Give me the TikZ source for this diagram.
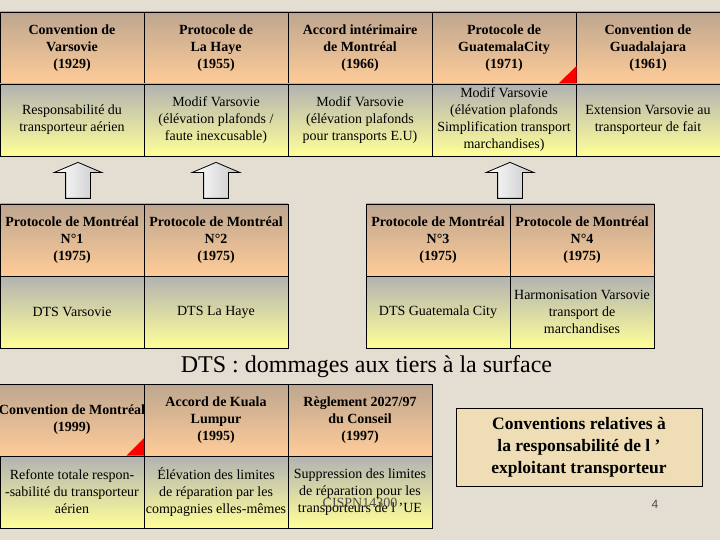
\documentclass[tikz,border=0pt]{standalone}
\usepackage{fontspec}
\setmainfont{Liberation Serif}
\setsansfont{Liberation Sans}
\usetikzlibrary{shapes.arrows}
\definecolor{pagebg}{HTML}{E4DDD1}
\definecolor{headtop}{HTML}{BDA68F}
\definecolor{headbot}{HTML}{FFCC99}
\definecolor{bodytop}{HTML}{B2B2B2}
\definecolor{bodybot}{HTML}{FFFF99}
\definecolor{notefill}{HTML}{EEDDB5}
\tikzset{
  cell/.style={draw=black,line width=0.8pt,minimum width=144pt,minimum height=72pt,inner sep=0pt,align=center,font=\fontsize{14}{17}\selectfont},
  headcell/.style={cell,top color=headtop,bottom color=headbot,font=\fontsize{14}{17}\selectfont\bfseries},
  bodycell/.style={cell,top color=bodytop,bottom color=bodybot},
  uparrow/.style={draw=black,line width=0.8pt,shape=single arrow,rotate=90,inner xsep=0pt,inner ysep=12pt,minimum height=36pt,minimum width=47pt,single arrow head extend=11.5pt,single arrow tip angle=134,shading angle=45,left color=white,right color=black!22},
  corner/.style={fill=red,draw=none}
}
\begin{document}
\begin{tikzpicture}[x=1pt,y=-1pt]
\useasboundingbox[fill=pagebg] (0,0) rectangle (720,540);

\node[headcell] (varsovie) at (72,48) {Convention de\\Varsovie\\(1929)};
\node[headcell] (haye) at (216,48) {Protocole de\\La Haye\\(1955)};
\node[headcell] (montreal) at (360,48) {Accord intérimaire\\de Montréal\\(1966)};
\node[headcell] (guatemala) at (504,48) {Protocole de\\GuatemalaCity\\(1971)};
\node[headcell] (guadalajara) at (648,48) {Convention de\\Guadalajara\\(1961)};
\node[bodycell] (varsoviet) at (72,120) {Responsabilité du\\transporteur aérien};
\node[bodycell] (hayet) at (216,120) {Modif Varsovie\\(élévation plafonds /\\faute inexcusable)};
\node[bodycell] (montrealt) at (360,120) {Modif Varsovie\\(élévation plafonds\\pour transports E.U)};
\node[bodycell] (guatemalat) at (504,120) {Modif Varsovie\\(élévation plafonds\\Simplification transport\\marchandises)};
\node[bodycell] (guadalajarat) at (648,120) {Extension Varsovie au\\transporteur de fait};
\fill[corner] (576.5,66) -- (576.5,83.5) -- (558.5,83.5) -- cycle;

\node[uparrow] (upa) at (78,183) {};
\node[uparrow] (upb) at (216,183) {};
\node[uparrow] (upc) at (510,183) {};

\node[headcell] (pma) at (72,240) {Protocole de Montréal\\N°1\\(1975)};
\node[headcell] (pmb) at (216,240) {Protocole de Montréal\\N°2\\(1975)};
\node[bodycell] (pmat) at (72,312) {DTS Varsovie};
\node[bodycell] (pmbt) at (216,312) {DTS La Haye};
\node[headcell] (pmc) at (438,240) {Protocole de Montréal\\N°3\\(1975)};
\node[headcell] (pmd) at (582,240) {Protocole de Montréal\\N°4\\(1975)};
\node[bodycell] (pmct) at (438,312) {DTS Guatemala City};
\node[bodycell] (pmdt) at (582,312) {Harmonisation Varsovie\\transport de\\marchandises};

\node[inner sep=0pt,font=\fontsize{24}{28}\selectfont] (dts) at (366.5,367) {DTS : dommages aux tiers à la surface};

\node[headcell] (cm) at (72,420) {Convention de Montréal\\(1999)};
\node[headcell] (kuala) at (216,420) {Accord de Kuala\\Lumpur\\(1995)};
\node[headcell] (reglement) at (360,420) {Règlement 2027/97\\du Conseil\\(1997)};
\node[bodycell] (cmt) at (72,492) {Refonte totale respon-\\-sabilité du transporteur\\aérien};
\node[bodycell] (kualat) at (216,492) {Élévation des limites\\de réparation par les\\compagnies elles-mêmes};
\node[bodycell] (reglementt) at (360,492) {Suppression des limites\\de réparation pour les\\transporteurs de l ’UE};
\fill[corner] (144,438) -- (144,455.5) -- (126.5,455.5) -- cycle;

\node[draw=black,line width=0.8pt,fill=notefill,minimum width=246pt,minimum height=78pt,inner sep=0pt,align=center,font=\fontsize{17.5}{22}\selectfont\bfseries] (note) at (579,447) {Conventions relatives à\\la responsabilité de l ’\\exploitant transporteur};

\node[font=\fontsize{14}{16}\selectfont,black!70] (cispn) at (360,503) {CISPN14300};
\node[font=\sffamily\fontsize{12}{14}\selectfont,black!70] (pageno) at (655,504) {4};
\end{tikzpicture}
\end{document}
